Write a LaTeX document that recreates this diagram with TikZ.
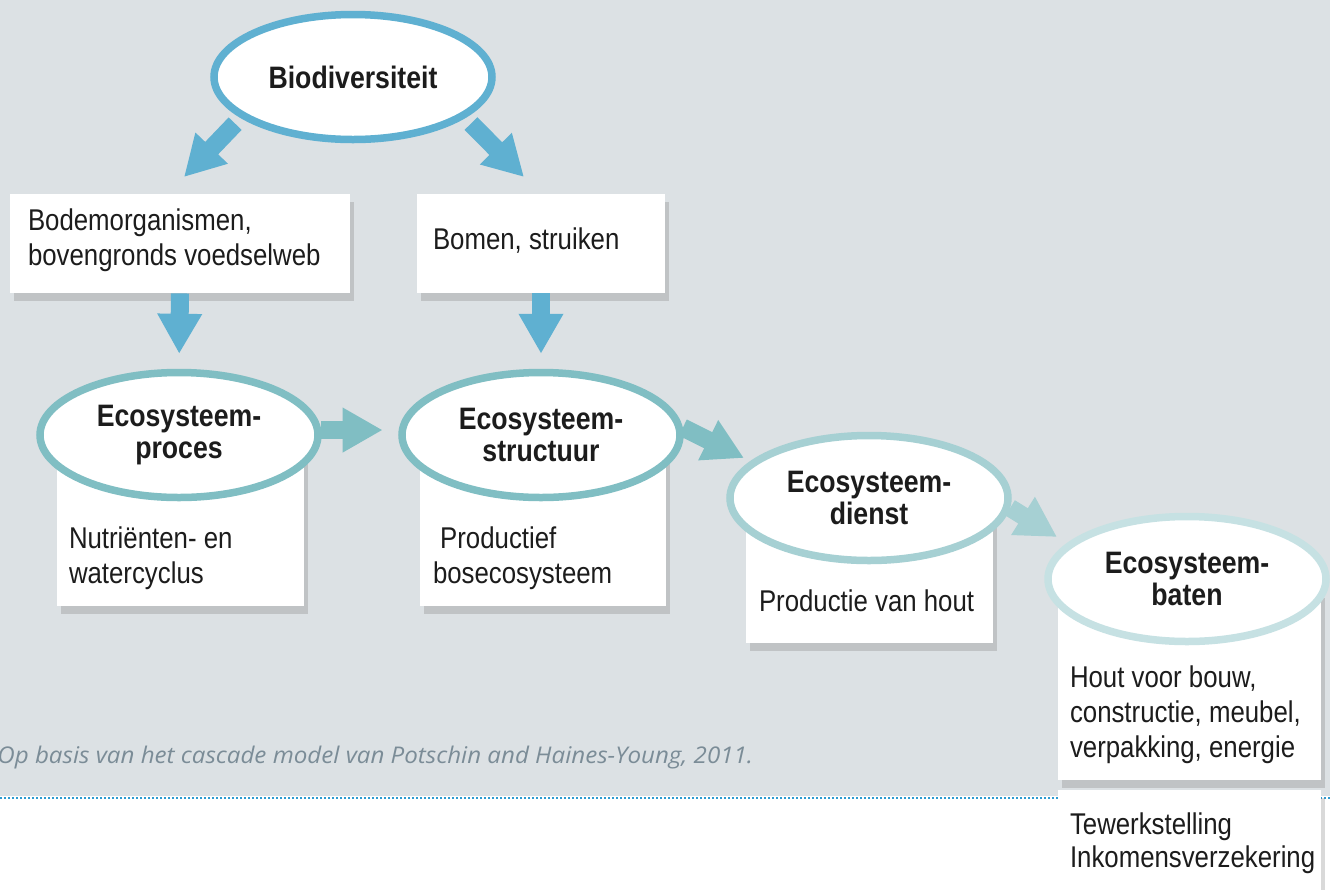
\documentclass[tikz,border=0pt]{standalone}
\usepackage{fontspec}
\setmainfont{Liberation Sans}[FakeStretch=0.86]
\newfontfamily\bronfont{Open Sans}[FakeStretch=1.05]
\usepackage{tikz}
\usetikzlibrary{shapes.geometric,arrows.meta,shadows,positioning}

\definecolor{achter}{HTML}{DCE1E4}
\definecolor{blauw}{HTML}{5FB0D1}
\definecolor{teala}{HTML}{80BEC3}
\definecolor{tealb}{HTML}{A6D0D3}
\definecolor{tealc}{HTML}{C6E1E3}
\definecolor{bron}{HTML}{7B8C97}
\definecolor{stippel}{HTML}{2E9BD0}
\definecolor{tekst}{HTML}{1C1C1C}

\begin{document}
\begin{tikzpicture}[x=0.5pt,y=-0.5pt,
  text=tekst,font=\fontsize{15}{17.5}\selectfont,
  ovaal/.style={ellipse,draw,fill=white,line width=3.75pt,
    minimum width=139pt,minimum height=62.5pt,inner sep=0pt,
    align=center,font=\fontsize{15.5}{16}\selectfont\bfseries},
  kader/.style={rectangle,fill=white,inner sep=0pt,
    drop shadow={opacity=0.3,shadow xshift=2pt,shadow yshift=-4pt}},
  kadertekst/.style={align=left,inner sep=0pt},
  pijl/.style={line width=9pt,-{Triangle[length=20pt,width=21pt]}}]

  \useasboundingbox (0,0) rectangle (1330,890);
  \fill[achter] (0,0) rectangle (1330,796);
  \draw[stippel,line width=1pt,dash pattern=on 1pt off 1pt] (0,798) -- (1330,798);

  \node[kader,minimum width=170pt,minimum height=49.5pt] (bodem) at (180,243.5) {};
  \node[kader,minimum width=124pt,minimum height=49.5pt] (bomen) at (541,243.5) {};
  \node[kader,minimum width=123.5pt,minimum height=78pt] (procbox) at (180.5,528) {};
  \node[kader,minimum width=123pt,minimum height=78pt] (strucbox) at (543,528) {};
  \node[kader,minimum width=123.5pt,minimum height=61.5pt] (dienstbox) at (869.5,581.5) {};
  \node[kader,minimum width=131.5pt,minimum height=55pt] (werkbox) at (1189.5,845) {};
  \node[kader,minimum width=131.5pt,minimum height=95pt] (batenbox) at (1189.5,685) {};

  \node[ovaal,draw=blauw] (bio) at (353,77) {Biodiversiteit};
  \node[ovaal,draw=teala] (proc) at (179,435) {Ecosysteem-\\proces};
  \node[ovaal,draw=teala] (struc) at (541,435) {Ecosysteem-\\structuur};
  \node[ovaal,draw=tealb] (dienst) at (869,498) {Ecosysteem-\\dienst};
  \node[ovaal,draw=tealc] (baten) at (1187,579) {Ecosysteem-\\baten};

  \node[kadertekst,anchor=west,xshift=9pt,yshift=1.5pt] (bodemtekst) at (bodem.west) {Bodemorganismen,\\bovengronds voedselweb};
  \node[kadertekst,anchor=west,xshift=8pt,yshift=1.5pt] (bomentekst) at (bomen.west) {Bomen, struiken};
  \node[kadertekst,anchor=south west,xshift=6pt,yshift=8pt] (proctekst) at (procbox.south west) {Nutriënten- en\\watercyclus};
  \node[kadertekst,anchor=south west,xshift=6.5pt,yshift=8pt] (structekst) at (strucbox.south west) {\ Productief\\bosecosysteem};
  \node[kadertekst,anchor=south west,xshift=6.5pt,yshift=15.5pt] (diensttekst) at (dienstbox.south west) {Productie van hout};
  \node[kadertekst,anchor=south west,xshift=6pt,yshift=8pt] (batentekst) at (batenbox.south west) {Hout voor bouw,\\constructie, meubel,\\verpakking, energie};
  \node[kadertekst,anchor=north west,xshift=6pt,yshift=-11.5pt,font=\fontsize{15}{16.5}\selectfont] (werktekst) at (werkbox.north west) {Tewerkstelling\\Inkomensverzekering};

  \node[anchor=base west,inner sep=0pt,text=bron,font=\bronfont\itshape\fontsize{11.5}{13}\selectfont] (bronvermelding) at (-3,763) {Op basis van het cascade model van Potschin and Haines-Young, 2011.};

  \coordinate (bodemtip) at (184,177);
  \coordinate (bomentip) at (524,177);
  \coordinate (diensttip) at (744,458);
  \coordinate (batentip) at (1057,537);

  \draw[pijl,blauw,shorten <=4pt] (bio.200) -- (bodemtip);
  \draw[pijl,blauw,shorten <=4pt] (bio.340) -- (bomentip);
  \draw[pijl,blauw,shorten >=7.5pt] (bodem.south) -- (proc.north);
  \draw[pijl,blauw,shorten >=7.5pt] (bomen.south) -- (struc.north);
  \draw[pijl,teala,shorten >=8pt] (proc.2) -- (struc.178);
  \draw[pijl,teala] (struc.3) -- (diensttip);
  \draw[pijl,tealb] (dienst.356) -- (batentip);
\end{tikzpicture}
\end{document}
